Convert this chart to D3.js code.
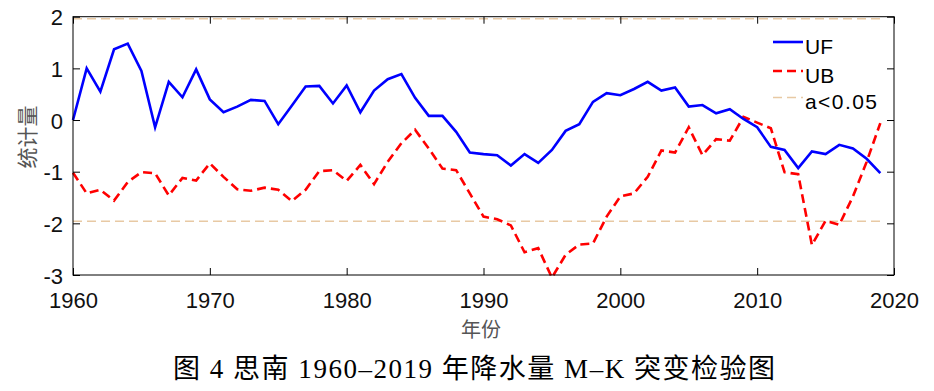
<!DOCTYPE html>
<html>
<head>
<meta charset="utf-8">
<script src="https://cdn.jsdelivr.net/npm/d3@7"></script>
<style>
  html, body { margin: 0; padding: 0; background: #fff; }
  svg { display: block; }
</style>
</head>
<body>
<svg id="chart" width="934" height="391"></svg>
<script>
const years = d3.range(1960, 2020);
const UF = [0.00, 1.00, 0.55, 1.37, 1.48, 0.95, -0.14, 0.74, 0.44, 0.98,
            0.40, 0.15, 0.26, 0.39, 0.37, -0.08, 0.28, 0.65, 0.66, 0.32,
            0.67, 0.15, 0.57, 0.79, 0.89, 0.43, 0.08, 0.08, -0.23, -0.63,
            -0.66, -0.68, -0.88, -0.66, -0.83, -0.58, -0.21, -0.08, 0.35, 0.52,
            0.48, 0.60, 0.74, 0.57, 0.63, 0.26, 0.29, 0.13, 0.21, 0.02,
            -0.14, -0.52, -0.58, -0.93, -0.61, -0.66, -0.48, -0.55, -0.75, -1.03];
const UB = [-1.02, -1.42, -1.35, -1.56, -1.20, -1.01, -1.03, -1.46, -1.12, -1.17,
            -0.84, -1.10, -1.34, -1.37, -1.31, -1.35, -1.57, -1.35, -0.99, -0.97,
            -1.18, -0.87, -1.24, -0.81, -0.45, -0.19, -0.55, -0.94, -0.97, -1.42,
            -1.87, -1.92, -2.04, -2.56, -2.48, -3.05, -2.61, -2.41, -2.39, -1.87,
            -1.48, -1.42, -1.10, -0.59, -0.63, -0.14, -0.68, -0.37, -0.40, 0.06,
            -0.05, -0.16, -1.01, -1.05, -2.42, -1.95, -2.03, -1.48, -0.81, -0.06];
const threshold = 1.96;
const xTicks = [1960, 1970, 1980, 1990, 2000, 2010, 2020];
const yTicks = [2, 1, 0, -1, -2, -3];
const legendLabels = ["UF", "UB", "a<0.05"];
const xLabel = "年份";
const yLabel = "统计量";
const caption = "图 4 思南 1960–2019 年降水量 M–K 突变检验图";

const svg = d3.select("#chart");
const L = 73, R = 894, T = 16.7, B = 275;
const x = d3.scaleLinear().domain([1960, 2020]).range([L, R]);
const y = d3.scaleLinear().domain([-3, 2]).range([B, T]);

const sans = "Liberation Sans, Arial, sans-serif";
const thrColor = "#E8C9A4";
const fmt = d => String(d);

// threshold lines
[threshold, -threshold].forEach(v => {
  svg.append("line")
    .attr("x1", x(1960)).attr("x2", x(2019))
    .attr("y1", y(v)).attr("y2", y(v))
    .attr("stroke", thrColor).attr("stroke-width", 1.5)
    .attr("stroke-dasharray", "9,5");
});

const line = d3.line().x((d, i) => x(years[i])).y(d => y(d));

svg.append("path").datum(UB)
  .attr("d", line).attr("fill", "none")
  .attr("stroke", "#FF0000").attr("stroke-width", 2.6)
  .attr("stroke-dasharray", "9,5");

svg.append("path").datum(UF)
  .attr("d", line).attr("fill", "none")
  .attr("stroke", "#0000FF").attr("stroke-width", 2.6);

// axes box
svg.append("rect").attr("x", L).attr("y", T).attr("width", R - L).attr("height", B - T)
  .attr("fill", "none").attr("stroke", "#000").attr("stroke-width", 1);

const tl = 7;
// x ticks (bottom & top, inward)
svg.append("g").attr("transform", `translate(0,${B})`)
  .call(d3.axisBottom(x).tickValues(xTicks).tickSizeInner(-tl).tickSizeOuter(0).tickFormat(fmt).tickPadding(10))
  .call(g => g.select(".domain").remove())
  .call(g => g.selectAll("text").attr("font-family", sans).attr("font-size", 22).attr("fill", "#111")
            .attr("dy", null).attr("y", 33));
svg.append("g").attr("transform", `translate(0,${T})`)
  .call(d3.axisTop(x).tickValues(xTicks).tickSizeInner(-tl).tickSizeOuter(0).tickFormat(""))
  .call(g => g.select(".domain").remove());
// y ticks (left & right, inward)
svg.append("g").attr("transform", `translate(${L},0)`)
  .call(d3.axisLeft(y).tickValues(yTicks).tickSizeInner(-tl).tickSizeOuter(0).tickFormat(fmt).tickPadding(10))
  .call(g => g.select(".domain").remove())
  .call(g => g.selectAll("text").attr("font-family", sans).attr("font-size", 22).attr("fill", "#111")
            .attr("dy", null).attr("y", 8).attr("x", -10));
svg.append("g").attr("transform", `translate(${R},0)`)
  .call(d3.axisRight(y).tickValues(yTicks).tickSizeInner(-tl).tickSizeOuter(0).tickFormat(""))
  .call(g => g.select(".domain").remove());

// axis labels
svg.append("text").attr("x", 481).attr("y", 337).attr("text-anchor", "middle")
  .attr("font-family", "Noto Sans CJK SC").attr("font-size", 20).attr("fill", "#555").text(xLabel);
svg.append("text").attr("transform", "translate(35,137) rotate(-90)").attr("text-anchor", "middle")
  .attr("font-family", "Noto Sans CJK SC").attr("font-size", 21).attr("fill", "#555").text(yLabel);

// legend
const legY = [42, 71, 97.5];
const legStyles = [
  {stroke: "#0000FF", dash: null, w: 2.6},
  {stroke: "#FF0000", dash: "9,5", w: 2.6},
  {stroke: thrColor, dash: "9,5", w: 1.5}
];
legendLabels.forEach((lab, i) => {
  svg.append("line").attr("x1", 773).attr("x2", 803).attr("y1", legY[i]).attr("y2", legY[i])
    .attr("stroke", legStyles[i].stroke).attr("stroke-width", legStyles[i].w)
    .attr("stroke-dasharray", legStyles[i].dash);
  const t = svg.append("text").attr("x", 805).attr("y", legY[i] + 11.5)
    .attr("font-family", sans).attr("font-size", 21).attr("fill", "#000").text(lab);
  if (i === 2) t.attr("textLength", 72).attr("lengthAdjust", "spacing");
});

// caption
svg.append("text").attr("x", 474).attr("y", 378).attr("text-anchor", "middle")
  .attr("font-family", "Liberation Serif, 'Noto Sans CJK SC'").attr("font-size", 27).attr("fill", "#000")
  .attr("textLength", 602).attr("lengthAdjust", "spacing")
  .text(caption);
</script>
</body>
</html>
